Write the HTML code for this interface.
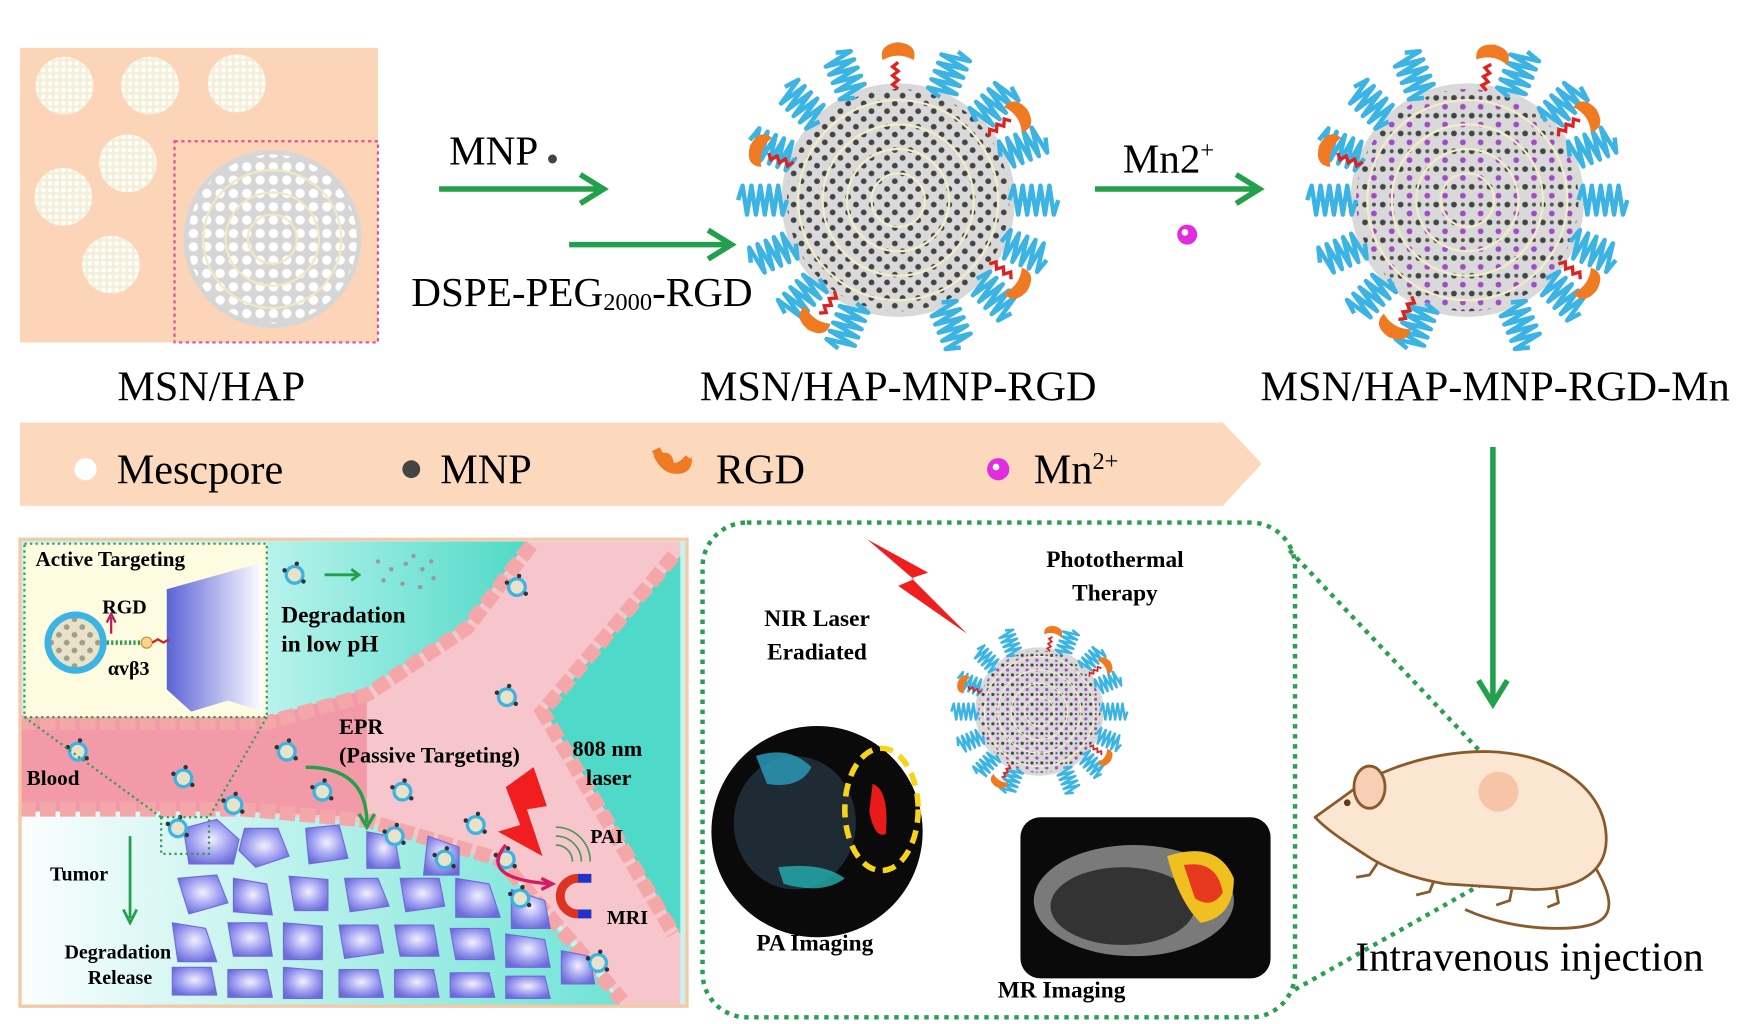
<!DOCTYPE html>
<html><head><meta charset="utf-8"><style>
html,body{margin:0;padding:0;background:#fff}
svg{display:block}
text{font-family:"Liberation Serif",serif}
.b{font-weight:bold}
</style></head><body>
<svg width="1743" height="1024" viewBox="0 0 1568 921" preserveAspectRatio="none" xmlns="http://www.w3.org/2000/svg">
<defs>
<pattern id="dk" width="14" height="14" patternUnits="userSpaceOnUse"><circle cx="4" cy="4" r="2.6" fill="#333"/><circle cx="11" cy="11" r="2.6" fill="#333"/></pattern>
<pattern id="mn" width="16" height="16" patternUnits="userSpaceOnUse"><circle cx="4" cy="4" r="2.6" fill="#444"/><circle cx="12" cy="12" r="2.6" fill="#a24bc4"/><circle cx="12" cy="4" r="1.8" fill="#555"/></pattern>
<pattern id="wd" width="12" height="12" patternUnits="userSpaceOnUse"><circle cx="6" cy="6" r="4.2" fill="#fff"/></pattern>
<pattern id="sp" width="6" height="6" patternUnits="userSpaceOnUse"><rect width="6" height="6" fill="#f3efd8"/><circle cx="3" cy="3" r="2" fill="#fff"/></pattern>
<radialGradient id="cell" cx="0.5" cy="0.45" r="0.6"><stop offset="0" stop-color="#f2f0ff"/><stop offset="0.6" stop-color="#9c9cf0"/><stop offset="1" stop-color="#6d6bd8"/></radialGradient>
<linearGradient id="tum" x1="0" x2="1"><stop offset="0" stop-color="#fbfefe"/><stop offset="1" stop-color="#6fe3d6"/></linearGradient>
<linearGradient id="cy" x1="0" x2="1"><stop offset="0" stop-color="#b8f3ec"/><stop offset="1" stop-color="#4fd9c8"/></linearGradient>
<linearGradient id="hand" x1="0" x2="1"><stop offset="0" stop-color="#5b63d6"/><stop offset="1" stop-color="#fff"/></linearGradient>
<g id="coil"><path d="M100,0 l4,-13 l4,26 l4,-26 l4,26 l4,-26 l4,26 l4,-26 l4,26 l4,-26 l4,26 l4,-13" fill="none" stroke="#3bb3e3" stroke-width="4" stroke-linejoin="round"/></g>
<g id="rgd"><path d="M100,0 l4,-5 l4,5 l4,-5 l4,5 l4,-5 l4,5" fill="none" stroke="#d22" stroke-width="3"/><path d="M126,-14 q14,-4 16,14 q-2,18 -16,14 q8,-14 0,-28z" fill="#f07a22"/></g>
<g id="np1">
<circle r="105" fill="#d9d9d9"/>
<circle r="100" fill="url(#dk)" opacity="0.9"/>
<g fill="none" stroke="#f1edc8" stroke-width="2"><circle r="90"/><circle r="68"/><circle r="46"/><circle r="24"/></g>
<use href="#coil" transform="rotate(0)"/><use href="#coil" transform="rotate(22)"/><use href="#coil" transform="rotate(45)"/><use href="#coil" transform="rotate(67)"/><use href="#coil" transform="rotate(112)"/><use href="#coil" transform="rotate(135)"/><use href="#coil" transform="rotate(157)"/><use href="#coil" transform="rotate(180)"/><use href="#coil" transform="rotate(202)"/><use href="#coil" transform="rotate(225)"/><use href="#coil" transform="rotate(247)"/><use href="#coil" transform="rotate(292)"/><use href="#coil" transform="rotate(315)"/><use href="#coil" transform="rotate(337)"/>
<use href="#rgd" transform="rotate(-90)"/><use href="#rgd" transform="rotate(-35)"/><use href="#rgd" transform="rotate(35)"/><use href="#rgd" transform="rotate(125)"/><use href="#rgd" transform="rotate(200)"/>
</g>
<g id="np2">
<circle r="105" fill="#d9d9d9"/>
<circle r="100" fill="url(#mn)"/>
<g fill="none" stroke="#f1edc8" stroke-width="2"><circle r="90"/><circle r="68"/><circle r="46"/><circle r="24"/></g>
<use href="#coil" transform="rotate(0)"/><use href="#coil" transform="rotate(22)"/><use href="#coil" transform="rotate(45)"/><use href="#coil" transform="rotate(67)"/><use href="#coil" transform="rotate(112)"/><use href="#coil" transform="rotate(135)"/><use href="#coil" transform="rotate(157)"/><use href="#coil" transform="rotate(180)"/><use href="#coil" transform="rotate(202)"/><use href="#coil" transform="rotate(225)"/><use href="#coil" transform="rotate(247)"/><use href="#coil" transform="rotate(292)"/><use href="#coil" transform="rotate(315)"/><use href="#coil" transform="rotate(337)"/>
<use href="#rgd" transform="rotate(-80)"/><use href="#rgd" transform="rotate(-35)"/><use href="#rgd" transform="rotate(35)"/><use href="#rgd" transform="rotate(120)"/><use href="#rgd" transform="rotate(200)"/>
</g>
<g id="mini"><circle r="9" fill="#3bb3e3"/><circle r="6" fill="#e8e3c8"/><circle cx="-9" cy="-4" r="2" fill="#333"/><circle cx="8" cy="6" r="2" fill="#333"/><circle cx="2" cy="-10" r="2" fill="#333"/></g>
</defs>

<!-- MSN/HAP panel -->
<rect x="18" y="43" width="322" height="265" fill="#fcd5b8"/>
<g fill="url(#sp)"><circle cx="58" cy="77" r="26"/><circle cx="135" cy="77" r="26"/><circle cx="213" cy="75" r="26"/><circle cx="57" cy="177" r="26"/><circle cx="115" cy="147" r="26"/><circle cx="100" cy="238" r="26"/></g>
<rect x="157" y="127" width="183" height="181" fill="none" stroke="#e0558f" stroke-width="2" stroke-dasharray="3,3"/>
<circle cx="245" cy="215" r="80" fill="#d6d6d6"/>
<circle cx="245" cy="215" r="76" fill="url(#wd)"/>
<g fill="none" stroke="#efe9c4" stroke-width="2"><circle cx="245" cy="215" r="62"/><circle cx="245" cy="215" r="42"/><circle cx="245" cy="215" r="22"/></g>
<text x="190" y="360" font-size="38" text-anchor="middle">MSN/HAP</text>

<!-- arrows top -->
<g stroke="#22a04b" stroke-width="5" fill="none">
<path d="M395,170 H540 M522,157 L543,170 L522,183"/>
<path d="M512,220 H655 M637,207 L658,220 L637,233"/>
<path d="M985,170 H1130 M1112,157 L1133,170 L1112,183"/>
<path d="M1343,402 V630 M1330,612 L1343,633 L1356,612"/>
</g>
<text x="404" y="148" font-size="37">MNP</text><circle cx="497" cy="143" r="4" fill="#444"/>
<text x="370" y="275" font-size="37">DSPE-PEG<tspan font-size="22" dy="4">2000</tspan><tspan dy="-4">-RGD</tspan></text>
<text x="1010" y="155" font-size="37">Mn2<tspan font-size="22" dy="-13">+</tspan></text>
<circle cx="1068" cy="211" r="9" fill="#e22ce0"/><circle cx="1066" cy="209" r="3" fill="#fff"/>

<use href="#np1" x="808" y="180"/>
<use href="#np2" x="1320" y="180"/>
<text x="808" y="360" font-size="38" text-anchor="middle">MSN/HAP-MNP-RGD</text>
<text x="1345" y="360" font-size="38" text-anchor="middle">MSN/HAP-MNP-RGD-Mn</text>

<!-- legend -->
<path d="M18,380 H1100 L1135,417 L1100,455 H18 Z" fill="#fcd9bd"/>
<circle cx="77" cy="422" r="10" fill="#fff"/><text x="105" y="435" font-size="38">Mescpore</text>
<circle cx="370" cy="422" r="8" fill="#444"/><text x="396" y="435" font-size="38">MNP</text>
<path d="M588,410 q8,18 24,16 q12,-2 10,-16 q-6,18 -16,6 q-2,-14 -18,-6z" fill="#f07a22"/><path d="M590,404 q14,28 30,8" fill="none" stroke="#f07a22" stroke-width="8"/>
<text x="644" y="435" font-size="38">RGD</text>
<circle cx="898" cy="422" r="10" fill="#e22ce0"/><circle cx="896" cy="420" r="3" fill="#fff"/>
<text x="930" y="435" font-size="38">Mn<tspan font-size="22" dy="-13">2+</tspan></text>

<!-- bottom-left panel -->
<g>
<rect x="18" y="485" width="600" height="420" fill="#c8f2ee"/>
<path d="M240,487 H475 L420,560 L330,620 L240,645 Z" fill="url(#cy)"/>
<path d="M612,500 L490,640 L612,840 Z" fill="#4fd9c8"/>
<path d="M18,645 H240 L330,620 L420,560 L475,487 H612 V500 L490,640 L612,840 V905 H560 L540,870 L450,775 L330,740 L220,730 H18 Z" fill="#f7c6cc"/>
<path d="M18,645 H240 L330,620 L330,735 L220,730 H18 Z" fill="#f29aa8"/>
<path d="M18,730 H220 L330,740 L450,775 L560,905 H18 Z" fill="url(#tum)"/>
<g fill="none" stroke="#f3a7a9" stroke-width="13" stroke-dasharray="14,4">
<path d="M18,650 H240 L330,625 L420,565 L478,490"/>
<path d="M18,728 H220 L330,738 L450,773 L560,900"/>
<path d="M606,500 L488,640 L606,840"/>
</g>
<g fill="url(#cell)" stroke="#6d6bd8" stroke-width="1">
<path d="M165,745 l30,-8 l20,18 l-5,22 l-40,0z"/><path d="M220,745 l30,0 l10,25 l-30,10 l-15,-15z"/><path d="M275,745 l30,-3 l8,30 l-35,5z"/><path d="M330,748 l25,5 l5,28 l-30,0z"/><path d="M385,752 l28,10 l0,25 l-32,0z"/>
<path d="M160,790 l35,-3 l10,25 l-35,10z"/><path d="M210,790 l30,5 l5,28 l-35,-3z"/><path d="M260,788 l35,3 l0,28 l-30,0z"/><path d="M310,790 l30,0 l10,25 l-35,5z"/><path d="M360,790 l35,0 l5,25 l-35,5z"/><path d="M410,790 l30,5 l10,30 l-40,0z"/><path d="M460,800 l30,10 l5,25 l-35,0z"/>
<path d="M155,830 l30,5 l10,30 l-35,0z"/><path d="M205,830 l35,0 l5,30 l-35,0z"/><path d="M255,830 l35,3 l0,30 l-35,0z"/><path d="M305,832 l35,0 l5,25 l-35,5z"/><path d="M355,832 l35,0 l5,28 l-35,0z"/><path d="M405,835 l35,0 l5,28 l-35,0z"/><path d="M455,840 l35,5 l5,25 l-40,0z"/><path d="M505,855 l25,5 l5,25 l-30,0z"/>
<path d="M155,870 l35,0 l5,25 l-40,0z"/><path d="M205,872 l35,0 l5,25 l-40,0z"/><path d="M255,870 l35,3 l0,25 l-35,0z"/><path d="M305,872 l35,0 l5,25 l-40,0z"/><path d="M355,872 l35,0 l5,25 l-40,0z"/><path d="M405,875 l35,0 l5,22 l-40,0z"/><path d="M455,878 l35,0 l5,20 l-40,0z"/>
</g>
<g>
<use href="#mini" x="265" y="517"/><use href="#mini" x="465" y="528"/><use href="#mini" x="456" y="627"/><use href="#mini" x="258" y="676"/><use href="#mini" x="70" y="676"/><use href="#mini" x="165" y="700"/><use href="#mini" x="210" y="724"/><use href="#mini" x="290" y="712"/><use href="#mini" x="362" y="712"/><use href="#mini" x="355" y="752"/><use href="#mini" x="400" y="773"/><use href="#mini" x="428" y="742"/><use href="#mini" x="455" y="773"/><use href="#mini" x="160" y="745"/><use href="#mini" x="538" y="866"/><use href="#mini" x="468" y="808"/>
</g>
<rect x="22" y="489" width="218" height="156" fill="#fdfbe0" stroke="#3a9a55" stroke-width="2" stroke-dasharray="2,3"/>
<path d="M22,645 L145,735 M240,645 L188,735" stroke="#3a9a55" stroke-width="2" stroke-dasharray="2,3"/>
<rect x="145" y="735" width="43" height="33" fill="none" stroke="#3a9a55" stroke-width="2" stroke-dasharray="2,3"/>
<text x="32" y="509" font-size="19" class="b">Active Targeting</text>
<path d="M150,530 L236,506 V640 L205,630 L172,640 L150,620 Z" fill="url(#hand)"/>
<circle cx="68" cy="578" r="28" fill="#3bb3e3"/><circle cx="68" cy="578" r="22" fill="#e8e3c8"/><circle cx="68" cy="578" r="22" fill="url(#dk)" opacity="0.4"/>
<path d="M96,578 h32" stroke="#2a9a55" stroke-width="4" stroke-dasharray="2,2"/><circle cx="132" cy="578" r="5" fill="#f6d48b" stroke="#c8903a"/><path d="M137,578 l5,-3 l5,3 l5,-3" stroke="#c22" stroke-width="2" fill="none"/>
<path d="M100,570 V555 M96,560 L100,552 L104,560" stroke="#c2185b" stroke-width="2" fill="none"/>
<text x="92" y="552" font-size="18" class="b">RGD</text>
<text x="97" y="607" font-size="18" class="b">αvβ3</text>
<path d="M292,517 H322 M316,512 L323,517 L316,522" stroke="#22a04b" stroke-width="2.5" fill="none"/>
<g fill="#999"><circle cx="340" cy="505" r="2"/><circle cx="352" cy="512" r="2"/><circle cx="365" cy="507" r="2"/><circle cx="380" cy="512" r="2"/><circle cx="345" cy="522" r="2"/><circle cx="362" cy="525" r="2"/><circle cx="378" cy="528" r="2"/><circle cx="390" cy="520" r="2"/><circle cx="372" cy="500" r="2"/><circle cx="388" cy="505" r="2"/></g>
<text x="253" y="560" font-size="21" class="b">Degradation</text>
<text x="253" y="586" font-size="21" class="b">in low pH</text>
<text x="305" y="660" font-size="20" class="b">EPR</text>
<text x="305" y="686" font-size="20" class="b">(Passive Targeting)</text>
<text x="515" y="680" font-size="20" class="b">808 nm</text>
<text x="527" y="706" font-size="20" class="b">laser</text>
<text x="24" y="706" font-size="19" class="b">Blood</text>
<text x="45" y="792" font-size="18" class="b">Tumor</text>
<text x="58" y="862" font-size="18" class="b">Degradation</text>
<text x="79" y="885" font-size="18" class="b">Release</text>
<text x="531" y="758" font-size="18" class="b">PAI</text>
<text x="546" y="831" font-size="18" class="b">MRI</text>
<path d="M117,752 V826 M111,818 L117,830 L123,818" stroke="#22a04b" stroke-width="2.5" fill="none"/>
<path d="M275,690 Q330,690 330,740 M323,732 L330,744 L337,732" stroke="#22a04b" stroke-width="3" fill="none"/>
<path d="M480,690 L492,725 L474,728 L488,770 L448,748 L468,742 L455,708 Z" fill="#f01e1e"/>
<path d="M455,760 Q430,790 495,795 M487,790 L497,795 L487,800" stroke="#d81b60" stroke-width="3" fill="none"/>
<path d="M520,790 a16,16 0 0 0 0,32" stroke="#d32" stroke-width="8" fill="none"/><path d="M520,790 h12 M520,822 h12" stroke="#2231c8" stroke-width="8"/>
<g fill="none" stroke="#4a9a55" stroke-width="1.5"><path d="M500,760 a15,15 0 0 1 15,15"/><path d="M500,752 a23,23 0 0 1 23,23"/><path d="M500,744 a31,31 0 0 1 31,31"/></g>
<rect x="18" y="485" width="600" height="420" fill="none" stroke="#f4c9a6" stroke-width="3"/>
</g>

<!-- green dotted box -->
<rect x="632" y="470" width="533" height="445" rx="40" fill="none" stroke="#27a04f" stroke-width="4" stroke-dasharray="4,5"/>
<path d="M1160,495 L1345,690 M1165,890 L1360,780" stroke="#27a04f" stroke-width="4" stroke-dasharray="4,5"/>
<path d="M780,485 L835,515 L820,520 L870,570 L808,527 L822,521 Z" fill="#f01e1e"/>
<text x="735" y="563" font-size="21" class="b" text-anchor="middle">NIR Laser</text>
<text x="735" y="593" font-size="21" class="b" text-anchor="middle">Eradiated</text>
<text x="1003" y="510" font-size="21" class="b" text-anchor="middle">Photothermal</text>
<text x="1003" y="540" font-size="21" class="b" text-anchor="middle">Therapy</text>
<use href="#np2" transform="translate(935,640) scale(0.55)"/>
<circle cx="735" cy="748" r="95" fill="#0a0a0a"/>
<ellipse cx="715" cy="740" rx="55" ry="60" fill="#1e2a34"/>
<path d="M680,680 q30,-10 50,10 q-10,20 -40,15z" fill="#2aa0c0" opacity="0.8"/>
<path d="M700,780 q40,-5 60,10 q-20,15 -55,5z" fill="#22b0b0" opacity="0.8"/>
<ellipse cx="793" cy="728" rx="33" ry="55" fill="none" stroke="#f7d417" stroke-width="5" stroke-dasharray="12,7"/>
<path d="M785,705 q15,5 12,45 q-10,5 -15,-20z" fill="#e81a1a"/>
<text x="733" y="855" font-size="21" class="b" text-anchor="middle">PA Imaging</text>
<rect x="918" y="735" width="225" height="145" rx="18" fill="#0a0a0a"/>
<ellipse cx="1020" cy="810" rx="90" ry="50" fill="#7a7a7a"/>
<ellipse cx="1010" cy="815" rx="65" ry="35" fill="#333"/>
<path d="M1050,770 q45,-15 60,20 q0,35 -30,40 q-20,-20 -30,-60z" fill="#f0c020"/>
<path d="M1065,778 q30,-5 35,25 q-10,15 -25,5z" fill="#e8381e"/>
<text x="955" y="897" font-size="21" class="b" text-anchor="middle">MR Imaging</text>

<!-- mouse -->
<g stroke="#8a5a2a" stroke-width="2.5" fill="#fbe6d2" stroke-linejoin="round">
<path d="M1432,775 C1460,820 1450,835 1400,835 C1370,835 1340,828 1318,818" fill="none"/>
<path d="M1183,735 L1215,712 C1240,692 1290,675 1340,676 C1400,678 1445,710 1445,755 C1445,790 1410,800 1380,800 L1300,795 C1270,790 1245,780 1230,770 C1215,760 1195,748 1183,735 Z"/>
<path d="M1240,775 l-8,12 l-12,2 M1290,792 l-4,10 l-12,3 M1360,800 l-2,10 l-12,4 M1400,800 l2,12 l-10,4" fill="none"/>
<ellipse cx="1232" cy="708" rx="14" ry="19" fill="#f6cfb4"/>
</g>
<circle cx="1348" cy="712" r="18" fill="#f8c4a8"/>
<circle cx="1212" cy="722" r="3" fill="#5a3a1a"/>
<text x="1376" y="873" font-size="37" text-anchor="middle">Intravenous injection</text>
</svg>
</body></html>
